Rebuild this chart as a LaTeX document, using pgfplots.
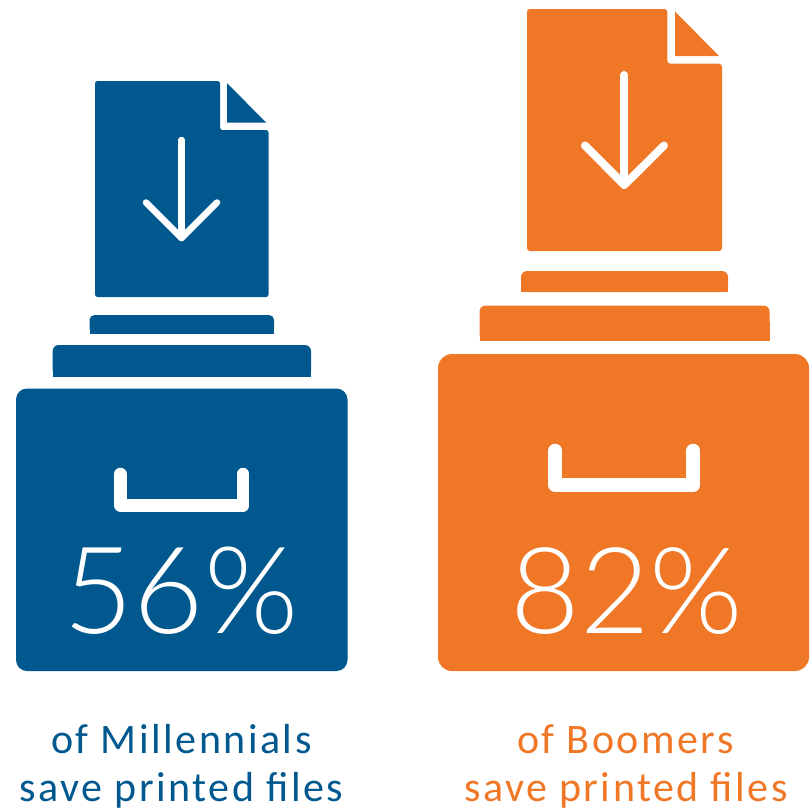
\documentclass[border=0pt]{standalone}
\usepackage{fontspec}
\usepackage{pgfplots}
\pgfplotsset{compat=1.18}
\setmainfont{Carlito}
\newfontfamily\capfont[LetterSpace=6]{Carlito}
\newfontfamily\numfont{Lato Light}
\definecolor{mblue}{RGB}{1,88,143}
\definecolor{boomer}{RGB}{240,119,38}

\begin{document}
\begin{tikzpicture}
\path[use as bounding box] (0,0) rectangle (809pt,811pt);
\begin{axis}[
    at={(0,0)}, anchor=south west,
    scale only axis, width=809pt, height=811pt,
    xmin=0, xmax=809, ymin=0, ymax=811,
    y dir=reverse,
    hide axis, clip=false, no markers,
]
% Millennials
\addplot[fill=mblue, draw=none, rounded corners=2.5pt] coordinates {(95,81)(220,81)(220,130)(268.5,130)(268.5,297)(95,297)} -- cycle;
\addplot[fill=mblue, draw=none] coordinates {(227,83)(227,122.5)(266,122.5)} -- cycle;
\addplot[white, line width=6.5pt, line cap=round] coordinates {(181.5,140)(181.5,238)};
\addplot[white, line width=6.5pt, line cap=round, line join=round] coordinates {(146,202.5)(181.5,238)(217,202.5)};
\addplot[fill=mblue, draw=none, rounded corners=5pt] coordinates {(89.5,315)(274,315)(274,333.5)(89.5,333.5)} -- cycle;
\addplot[fill=mblue, draw=none] coordinates {(89.5,324)(274,324)(274,333.5)(89.5,333.5)} -- cycle;
\addplot[fill=mblue, draw=none, rounded corners=6pt] coordinates {(52.7,345)(311,345)(311,376.5)(52.7,376.5)} -- cycle;
\addplot[fill=mblue, draw=none] coordinates {(52.7,360)(311,360)(311,376.5)(52.7,376.5)} -- cycle;
\addplot[fill=mblue, draw=none, rounded corners=11pt] coordinates {(16,388.5)(347.5,388.5)(347.5,671)(16,671)} -- cycle;
\addplot[white, line width=12.5pt, line cap=round, line join=round] coordinates {(120.3,474)(120.3,505.3)(243.2,505.3)(243.2,474)};
\node[white, anchor=base, inner sep=0pt] at (axis cs:181,633) {\fontsize{121}{121}\numfont 56\%};
\node[mblue, anchor=base, inner sep=0pt] at (axis cs:181.5,753) {\fontsize{42}{42}\capfont of Millennials};
\node[mblue, anchor=base, inner sep=0pt] at (axis cs:181.5,801) {\fontsize{42}{42}\capfont save printed files};
% Boomers
\addplot[fill=boomer, draw=none, rounded corners=3pt] coordinates {(527,9)(667.3,9)(667.3,63.7)(722,63.7)(722,251)(527,251)} -- cycle;
\addplot[fill=boomer, draw=none] coordinates {(675,11.5)(675,56)(719,56)} -- cycle;
\addplot[white, line width=8pt, line cap=round] coordinates {(624.3,75)(624.3,185)};
\addplot[white, line width=8pt, line cap=round, line join=round] coordinates {(585,145.5)(624.3,185)(664,145.5)};
\addplot[fill=boomer, draw=none, rounded corners=6pt] coordinates {(521,271)(728,271)(728,292)(521,292)} -- cycle;
\addplot[fill=boomer, draw=none] coordinates {(521,282)(728,282)(728,292)(521,292)} -- cycle;
\addplot[fill=boomer, draw=none, rounded corners=6pt] coordinates {(479.5,305.5)(769.5,305.5)(769.5,340.5)(479.5,340.5)} -- cycle;
\addplot[fill=boomer, draw=none] coordinates {(479.5,322)(769.5,322)(769.5,340.5)(479.5,340.5)} -- cycle;
\addplot[fill=boomer, draw=none, rounded corners=14pt] coordinates {(438,354)(809,354)(809,671)(438,671)} -- cycle;
\addplot[white, line width=14pt, line cap=round, line join=round] coordinates {(555.3,450.7)(555.3,485)(693.3,485)(693.3,450.7)};
\node[white, anchor=base, inner sep=0pt] at (axis cs:627,633) {\fontsize{120}{120}\numfont 82\%};
\node[boomer, anchor=base, inner sep=0pt] at (axis cs:625.5,753) {\fontsize{42}{42}\capfont of Boomers};
\node[boomer, anchor=base, inner sep=0pt] at (axis cs:626,801) {\fontsize{42}{42}\capfont save printed files};
\end{axis}
\end{tikzpicture}
\end{document}
